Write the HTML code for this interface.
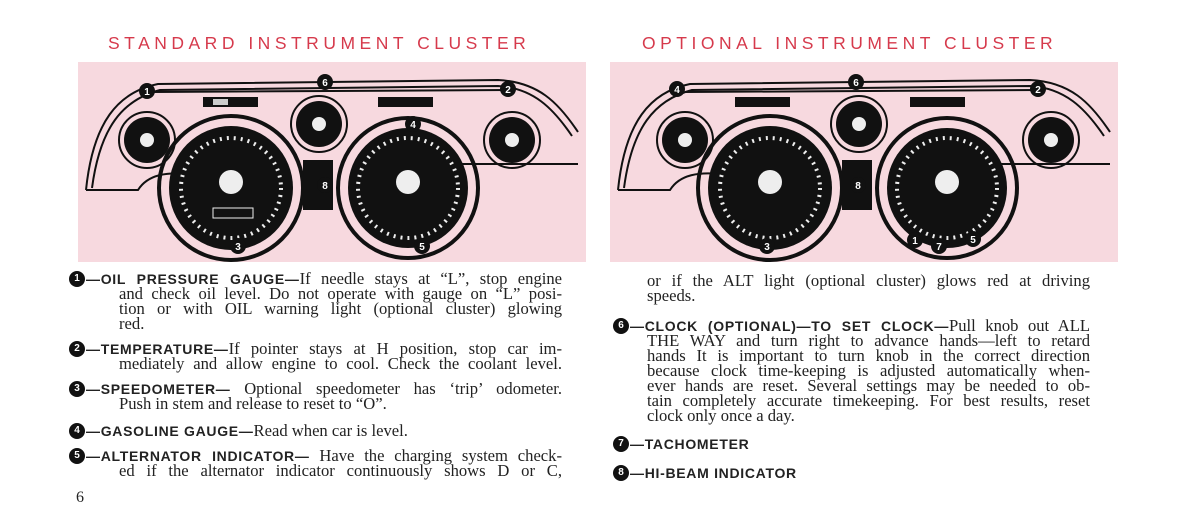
<!DOCTYPE html>
<html><head><meta charset="utf-8"><style>
body{margin:0;width:1200px;height:522px;background:#fff;position:relative;overflow:hidden;font-family:"Liberation Serif",serif;color:#222}
.t{position:absolute;color:#d63a4c;font-family:"Liberation Sans",sans-serif;font-size:17.5px;letter-spacing:4.5px;top:33px}
.l{position:absolute;font-size:16.6px;line-height:15px;white-space:nowrap;text-align:justify;text-align-last:justify}
.h{font-family:"Liberation Sans",sans-serif;font-weight:bold;font-size:14px;letter-spacing:.7px}
.b{position:absolute;width:16px;height:16px;border-radius:50%;background:#111;color:#fff;font:bold 10px "Liberation Sans",sans-serif;text-align:center;line-height:16px}
svg{position:absolute}
</style></head><body>
<div class="t" style="left:108px">STANDARD INSTRUMENT CLUSTER</div>
<div class="t" style="left:642px">OPTIONAL INSTRUMENT CLUSTER</div>

<svg style="left:78px;top:62px" width="508" height="200" viewBox="0 0 508 200">
<rect width="508" height="200" fill="#f7d9df"/>
<g fill="none" stroke="#111" stroke-width="2">
<path d="M8 128 C15 60 40 30 80 22 L420 18 C460 20 480 40 500 70"/>
<path d="M14 126 C22 66 44 38 82 28 L420 24 C455 26 475 46 494 74"/>
<path d="M75 30 L430 28"/><path d="M8 128 L60 128 C70 112 90 110 110 112"/>
<path d="M370 102 L500 102"/>
</g>
<rect x="125" y="35" width="55" height="10" fill="#111"/><rect x="300" y="35" width="55" height="10" fill="#111"/>
<rect x="135" y="37" width="15" height="6" fill="#ccc"/>
<g fill="#111">
<circle cx="153" cy="126" r="72" fill="none" stroke="#111" stroke-width="4"/>
<circle cx="153" cy="126" r="62"/>
<circle cx="330" cy="126" r="70" fill="none" stroke="#111" stroke-width="4"/>
<circle cx="330" cy="126" r="60"/>
<circle cx="69" cy="78" r="28" fill="none" stroke="#111" stroke-width="2"/><circle cx="69" cy="78" r="23"/>
<circle cx="241" cy="62" r="28" fill="none" stroke="#111" stroke-width="2"/><circle cx="241" cy="62" r="23"/>
<circle cx="434" cy="78" r="28" fill="none" stroke="#111" stroke-width="2"/><circle cx="434" cy="78" r="23"/>
<rect x="225" y="98" width="30" height="50"/>
</g>
<g fill="none" stroke="#eee" stroke-width="4" stroke-dasharray="2 5"><circle cx="153" cy="126" r="50"/><circle cx="330" cy="126" r="50"/></g>
<g fill="#eee"><circle cx="153" cy="120" r="12"/><circle cx="330" cy="120" r="12"/><circle cx="69" cy="78" r="7"/><circle cx="241" cy="62" r="7"/><circle cx="434" cy="78" r="7"/>
<rect x="135" y="146" width="40" height="10" fill="none" stroke="#eee"/></g>
<g fill="#111" font-family="Liberation Sans" font-weight="bold" font-size="10" text-anchor="middle">
<circle cx="69" cy="29" r="8"/><circle cx="247" cy="20" r="8"/><circle cx="430" cy="27" r="8"/><circle cx="335" cy="62" r="8"/><circle cx="247" cy="123" r="8"/><circle cx="160" cy="184" r="8"/><circle cx="344" cy="184" r="8"/>
<g fill="#fff"><text x="69" y="33">1</text><text x="247" y="24">6</text><text x="430" y="31">2</text><text x="335" y="66">4</text><text x="247" y="127">8</text><text x="160" y="188">3</text><text x="344" y="188">5</text></g></g>
</svg>

<svg style="left:610px;top:62px" width="508" height="200" viewBox="0 0 508 200">
<rect width="508" height="200" fill="#f7d9df"/>
<g fill="none" stroke="#111" stroke-width="2">
<path d="M8 128 C15 60 40 30 80 22 L420 18 C460 20 480 40 500 70"/>
<path d="M14 126 C22 66 44 38 82 28 L420 24 C455 26 475 46 494 74"/>
<path d="M75 30 L430 28"/><path d="M8 128 L60 128 C70 112 90 110 110 112"/>
<path d="M370 102 L500 102"/>
</g>
<rect x="125" y="35" width="55" height="10" fill="#111"/><rect x="300" y="35" width="55" height="10" fill="#111"/>
<g fill="#111">
<circle cx="160" cy="126" r="72" fill="none" stroke="#111" stroke-width="4"/>
<circle cx="160" cy="126" r="62"/>
<circle cx="337" cy="126" r="70" fill="none" stroke="#111" stroke-width="4"/>
<circle cx="337" cy="126" r="60"/>
<circle cx="75" cy="78" r="28" fill="none" stroke="#111" stroke-width="2"/><circle cx="75" cy="78" r="23"/>
<circle cx="249" cy="62" r="28" fill="none" stroke="#111" stroke-width="2"/><circle cx="249" cy="62" r="23"/>
<circle cx="441" cy="78" r="28" fill="none" stroke="#111" stroke-width="2"/><circle cx="441" cy="78" r="23"/>
<rect x="232" y="98" width="30" height="50"/>
</g>
<g fill="none" stroke="#eee" stroke-width="4" stroke-dasharray="2 5"><circle cx="160" cy="126" r="50"/><circle cx="337" cy="126" r="50"/></g>
<g fill="#eee"><circle cx="160" cy="120" r="12"/><circle cx="337" cy="120" r="12"/><circle cx="75" cy="78" r="7"/><circle cx="249" cy="62" r="7"/><circle cx="441" cy="78" r="7"/></g>
<g fill="#111" font-family="Liberation Sans" font-weight="bold" font-size="10" text-anchor="middle">
<circle cx="67" cy="27" r="8"/><circle cx="246" cy="20" r="8"/><circle cx="428" cy="27" r="8"/><circle cx="248" cy="123" r="8"/><circle cx="157" cy="184" r="8"/><circle cx="305" cy="178" r="8"/><circle cx="329" cy="184" r="8"/><circle cx="363" cy="177" r="8"/>
<g fill="#fff"><text x="67" y="31">4</text><text x="246" y="24">6</text><text x="428" y="31">2</text><text x="248" y="127">8</text><text x="157" y="188">3</text><text x="305" y="182">1</text><text x="329" y="188">7</text><text x="363" y="181">5</text></g></g>
</svg>

<div class="b" style="left:69px;top:271px">1</div>
<div class="l" style="left:86px;top:271px;width:476px"><span class="h">—OIL PRESSURE GAUGE—</span>If needle stays at “L”, stop engine</div>
<div class="l" style="left:119px;top:286px;width:443px">and check oil level. Do not operate with gauge on “L” posi-</div>
<div class="l" style="left:119px;top:301px;width:443px">tion or with OIL warning light (optional cluster) glowing</div>
<div class="l" style="left:119px;top:316px;text-align-last:left">red.</div>
<div class="b" style="left:69px;top:341px">2</div>
<div class="l" style="left:86px;top:341px;width:476px"><span class="h">—TEMPERATURE—</span>If pointer stays at H position, stop car im-</div>
<div class="l" style="left:119px;top:356px;width:443px">mediately and allow engine to cool. Check the coolant level.</div>
<div class="b" style="left:69px;top:381px">3</div>
<div class="l" style="left:86px;top:381px;width:476px"><span class="h">—SPEEDOMETER—</span> Optional speedometer has ‘trip’ odometer.</div>
<div class="l" style="left:119px;top:396px;text-align-last:left">Push in stem and release to reset to “O”.</div>
<div class="b" style="left:69px;top:423px">4</div>
<div class="l" style="left:86px;top:423px;text-align-last:left"><span class="h">—GASOLINE GAUGE—</span>Read when car is level.</div>
<div class="b" style="left:69px;top:448px">5</div>
<div class="l" style="left:86px;top:448px;width:476px"><span class="h">—ALTERNATOR INDICATOR—</span> Have the charging system check-</div>
<div class="l" style="left:119px;top:463px;width:443px">ed if the alternator indicator continuously shows D or C,</div>
<div class="l" style="left:76px;top:490px;font-size:16px">6</div>

<div class="l" style="left:647px;top:273px;width:443px">or if the ALT light (optional cluster) glows red at driving</div>
<div class="l" style="left:647px;top:288px;text-align-last:left">speeds.</div>
<div class="b" style="left:613px;top:318px">6</div>
<div class="l" style="left:630px;top:318px;width:460px"><span class="h">—CLOCK (OPTIONAL)—TO SET CLOCK—</span>Pull knob out ALL</div>
<div class="l" style="left:647px;top:333px;width:443px">THE WAY and turn right to advance hands—left to retard</div>
<div class="l" style="left:647px;top:348px;width:443px">hands It is important to turn knob in the correct direction</div>
<div class="l" style="left:647px;top:363px;width:443px">because clock time-keeping is adjusted automatically when-</div>
<div class="l" style="left:647px;top:378px;width:443px">ever hands are reset. Several settings may be needed to ob-</div>
<div class="l" style="left:647px;top:393px;width:443px">tain completely accurate timekeeping. For best results, reset</div>
<div class="l" style="left:647px;top:408px;text-align-last:left">clock only once a day.</div>
<div class="b" style="left:613px;top:436px">7</div>
<div class="l" style="left:630px;top:436px;text-align-last:left"><span class="h">—TACHOMETER</span></div>
<div class="b" style="left:613px;top:465px">8</div>
<div class="l" style="left:630px;top:465px;text-align-last:left"><span class="h">—HI-BEAM INDICATOR</span></div>
</body></html>
